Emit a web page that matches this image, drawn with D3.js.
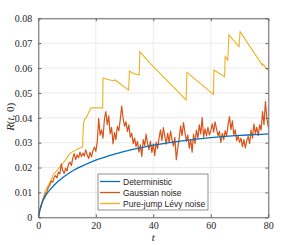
<!DOCTYPE html>
<html>
<head>
<meta charset="utf-8">
<script src="https://cdn.jsdelivr.net/npm/d3@7"></script>
<style>
  body { margin: 0; background: #fff; }
  svg { display: block; }
</style>
</head>
<body>
<svg id="chart" width="297" height="245"></svg>
<script>
// deterministic solution, read at a few times
const detT = [0, 1, 2, 3, 4, 5, 6, 8, 10, 12, 15, 20, 25, 30, 35, 40, 45, 50, 55, 60, 65, 70, 75, 80];
const detR = [0, 0.005, 0.0075, 0.0095, 0.011, 0.0123, 0.0135, 0.0155, 0.0172, 0.0187, 0.0205, 0.023,
  0.0249, 0.0265, 0.0278, 0.029, 0.0299, 0.0307, 0.0314, 0.032, 0.0325, 0.0329, 0.0332, 0.0335];

// gaussian noise path, one value every 0.5 in t (0 .. 80)
const gaussStep = 0.5;
const gaussR = [
  0.0000, 0.0030, 0.0042, 0.0068, 0.0079, 0.0095, 0.0102, 0.0121, 0.0128, 0.0146,
  0.0141, 0.0160, 0.0168, 0.0158, 0.0182, 0.0175, 0.0215, 0.0188, 0.0176, 0.0198,
  0.0186, 0.0214, 0.0222, 0.0208, 0.0238, 0.0256, 0.0232, 0.0251, 0.0239, 0.0262,
  0.0244, 0.0258, 0.0246, 0.0271, 0.0252, 0.0236, 0.0262, 0.0243, 0.0268, 0.0282,
  0.0265, 0.0301, 0.0398, 0.0330, 0.0352, 0.0318, 0.0395, 0.0425, 0.0372, 0.0408,
  0.0335, 0.0362, 0.0295, 0.0341, 0.0312, 0.0366, 0.0348, 0.0392, 0.0447, 0.0398,
  0.0366, 0.0384, 0.0345, 0.0372, 0.0322, 0.0338, 0.0296, 0.0318, 0.0284, 0.0305,
  0.0262, 0.0291, 0.0245, 0.0312, 0.0288, 0.0334, 0.0296, 0.0272, 0.0306, 0.0261,
  0.0295, 0.0248, 0.0302, 0.0276, 0.0318, 0.0352, 0.0308, 0.0361, 0.0326, 0.0294,
  0.0338, 0.0301, 0.0347, 0.0312, 0.0286, 0.0321, 0.0232, 0.0278, 0.0316, 0.0368,
  0.0328, 0.0381, 0.0342, 0.0305, 0.0331, 0.0278, 0.0312, 0.0262, 0.0334, 0.0296,
  0.0351, 0.0318, 0.0372, 0.0335, 0.0401, 0.0322, 0.0356, 0.0327, 0.0362, 0.0331,
  0.0348, 0.0376, 0.0342, 0.0384, 0.0355, 0.0328, 0.0346, 0.0301, 0.0338, 0.0312,
  0.0348, 0.0326, 0.0372, 0.0405, 0.0352, 0.0388, 0.0331, 0.0352, 0.0308, 0.0326,
  0.0301, 0.0318, 0.0284, 0.0312, 0.0279, 0.0308, 0.0325, 0.0296, 0.0352, 0.0318,
  0.0375, 0.0336, 0.0362, 0.0328, 0.0372, 0.0351, 0.0425, 0.0372, 0.0465, 0.0398,
  0.0362
];

// pure-jump levy path: jumps then decay
const levyT = [0, 1.2, 2.3, 4.1, 5.2, 7.5, 9.3, 11.0, 13.4, 15.4, 15.7, 16.1, 16.6, 17.3, 18.2, 18.5,
  22.4, 22.5, 26.0, 26.7, 31.4, 31.7, 32.9, 35.1, 35.3, 38.9, 51.4, 51.7, 60.9, 61.1, 64.8, 65.0,
  65.9, 66.3, 69.8, 70.2, 77.9, 78.0, 80];
const levyR = [0, 0.0056, 0.0103, 0.0143, 0.017, 0.0203, 0.0228, 0.0257, 0.0273, 0.0284, 0.0375, 0.0395,
  0.040, 0.0415, 0.0437, 0.044, 0.044, 0.0559, 0.0549, 0.0552, 0.0511, 0.0588, 0.0579, 0.0572,
  0.0666, 0.0619, 0.0472, 0.0583, 0.0494, 0.0592, 0.0565, 0.0646, 0.0632, 0.0733, 0.0686,
  0.0746, 0.0612, 0.0617, 0.059];

const xTicks = [0, 20, 40, 60, 80];
const yTicks = [0, 0.01, 0.02, 0.03, 0.04, 0.05, 0.06, 0.07, 0.08];
const seriesNames = ["Deterministic", "Gaussian noise", "Pure-jump L\u00e9vy noise"];
const seriesColors = ["#0072BD", "#D95319", "#EDB120"];

const svg = d3.select("#chart"),
  margin = { left: 38.3, right: 28.7, top: 18.3, bottom: 27.7 },
  width = +svg.attr("width") - margin.left - margin.right,
  height = +svg.attr("height") - margin.top - margin.bottom;

const x = d3.scaleLinear().domain([0, 80]).range([0, width]);
const y = d3.scaleLinear().domain([0, 0.08]).range([height, 0]);

const g = svg.append("g").attr("transform", `translate(${margin.left},${margin.top})`);

// grid
g.append("g")
  .selectAll("line")
  .data(xTicks)
  .join("line")
  .attr("x1", (d) => x(d)).attr("x2", (d) => x(d))
  .attr("y1", 0).attr("y2", height)
  .attr("stroke", "#ebebeb").attr("stroke-width", 1);
g.append("g")
  .selectAll("line")
  .data(yTicks)
  .join("line")
  .attr("y1", (d) => y(d)).attr("y2", (d) => y(d))
  .attr("x1", 0).attr("x2", width)
  .attr("stroke", "#ebebeb").attr("stroke-width", 1);

const line = d3.line().x((d) => x(d[0])).y((d) => y(d[1]));

const detData = detT.map((t, i) => [t, detR[i]]);
const gaussData = gaussR.map((v, i) => [i * gaussStep, v]);
const levyData = levyT.map((t, i) => [t, levyR[i]]);

svg.append("clipPath").attr("id", "clip")
  .append("rect").attr("width", width).attr("height", height);

const plot = g.append("g").attr("clip-path", "url(#clip)");
plot.append("path").datum(levyData).attr("d", line)
  .attr("fill", "none").attr("stroke", seriesColors[2]).attr("stroke-width", 1.1);
plot.append("path").datum(gaussData).attr("d", line)
  .attr("fill", "none").attr("stroke", seriesColors[1]).attr("stroke-width", 1.2)
  .attr("stroke-linejoin", "round");
plot.append("path").datum(detData).attr("d", d3.line().curve(d3.curveMonotoneX).x((d) => x(d[0])).y((d) => y(d[1])))
  .attr("fill", "none").attr("stroke", seriesColors[0]).attr("stroke-width", 1.3);

// axes, box style with inward ticks
const axisColor = "#666";
const font = "'Liberation Serif', 'Times New Roman', serif";

const xAxis = g.append("g").attr("transform", `translate(0,${height})`)
  .call(d3.axisBottom(x).tickValues(xTicks).tickSizeInner(-3).tickSizeOuter(0).tickPadding(5));
const xTop = g.append("g")
  .call(d3.axisTop(x).tickValues(xTicks).tickSizeInner(-3).tickSizeOuter(0).tickFormat(""));
const yAxis = g.append("g")
  .call(d3.axisLeft(y).tickValues(yTicks).tickSizeInner(-3).tickSizeOuter(0).tickPadding(6)
    .tickFormat((d) => (d === 0 ? "0" : d.toFixed(2))));
const yRight = g.append("g").attr("transform", `translate(${width},0)`)
  .call(d3.axisRight(y).tickValues(yTicks).tickSizeInner(-3).tickSizeOuter(0).tickFormat(""));

[xAxis, xTop, yAxis, yRight].forEach((a) => {
  a.select(".domain").attr("stroke", axisColor);
  a.selectAll(".tick line").attr("stroke", axisColor);
  a.selectAll("text").attr("fill", "#262626").style("font-family", font).style("font-size", "10px");
});

// axis labels
svg.append("text")
  .attr("x", margin.left + width / 2).attr("y", 241)
  .attr("text-anchor", "middle")
  .style("font-family", font).style("font-size", "11px").style("font-style", "italic")
  .attr("fill", "#262626")
  .text("t");

const ylab = svg.append("text")
  .attr("transform", `translate(14,${margin.top + height / 2 - 1}) rotate(-90)`)
  .attr("text-anchor", "middle")
  .style("font-family", font).style("font-size", "11px")
  .attr("fill", "#262626");
ylab.append("tspan").style("font-style", "italic").text("R");
ylab.append("tspan").text("(");
ylab.append("tspan").style("font-style", "italic").text("t");
ylab.append("tspan").text(", 0)");

// legend
const legend = svg.append("g").attr("transform", "translate(98,174)");
legend.append("rect")
  .attr("width", 110).attr("height", 36)
  .attr("fill", "#fff").attr("stroke", "#777").attr("stroke-width", 0.8);
const items = legend.selectAll("g.item")
  .data(seriesNames)
  .join("g")
  .attr("class", "item")
  .attr("transform", (d, i) => `translate(0,${7.5 + i * 11})`);
items.append("line")
  .attr("x1", 2).attr("x2", 22).attr("y1", 0).attr("y2", 0)
  .attr("stroke", (d, i) => seriesColors[i]).attr("stroke-width", 1.3);
items.append("text")
  .attr("x", 25).attr("y", 3)
  .style("font-family", "'Liberation Sans', Arial, sans-serif").style("font-size", "8.5px")
  .attr("fill", "#262626")
  .text((d) => d);
</script>
</body>
</html>
